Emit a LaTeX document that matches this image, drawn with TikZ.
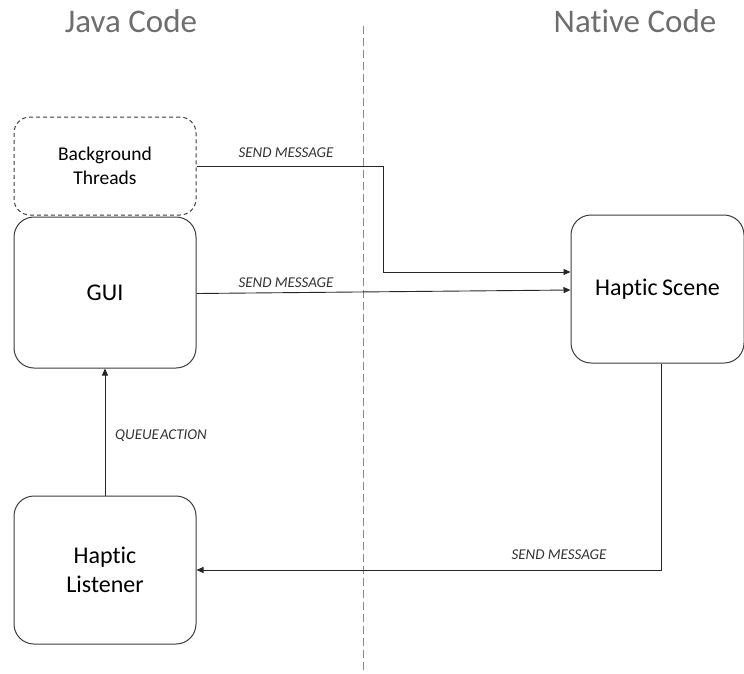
\documentclass[tikz,border=0pt]{standalone}
\usepackage{fontspec}
\setmainfont{Carlito}[Ligatures=NoCommon]
\usetikzlibrary{arrows.meta}
\definecolor{boxline}{HTML}{3C3C3C}
\definecolor{titlegray}{HTML}{6E6E6E}
\definecolor{midgray}{HTML}{8A8A8A}
\tikzset{
  block/.style={draw=boxline, line width=1pt, rounded corners=20pt, align=center,
    inner sep=0pt, text=black},
  dblock/.style={block, dashed, dash pattern=on 4pt off 3pt, rounded corners=16pt},
  arr/.style={draw=black!85, line width=0.9pt, -{Triangle[length=7pt,width=6pt]}},
  lbl/.style={font=\fontsize{15}{17}\selectfont\itshape, text=black!80, inner sep=0pt, anchor=base},
  ttl/.style={font=\fontsize{33}{36}\selectfont, text=titlegray, inner sep=0pt, anchor=base},
  divider/.style={draw=midgray, line width=1pt, dash pattern=on 8pt off 4pt}
}
\begin{document}
\begin{tikzpicture}[x=1pt,y=-1pt]
\useasboundingbox (0,0) rectangle (744,673);
% titles
\node[ttl] (jt) at (131,32) {Java Code};
\node[ttl] (nt) at (635,32) {Native Code};
% divider
\coordinate (dtop) at (363,26);
\coordinate (dbot) at (363,673);
\draw[divider] (dtop) -- (dbot);
% boxes
\node[dblock, minimum width=182pt, minimum height=98pt,
  font=\fontsize{19.5}{24}\selectfont] (bg) at (105,166) {Background\\Threads};
\node[block, minimum width=182pt, minimum height=151pt,
  font=\fontsize{24}{28}\selectfont] (gui) at (105,292.5) {GUI};
\node[block, minimum width=182pt, minimum height=148pt,
  font=\fontsize{24}{29}\selectfont] (hl) at (105,570) {Haptic\\Listener};
\node[block, minimum width=173pt, minimum height=148pt,
  font=\fontsize{24}{28}\selectfont] (hs) at (657.5,289) {Haptic\kern-1pt\ Scene};
% connectors
\coordinate (bend) at (383,272);
\draw[arr] (bg.east) -| (bend) -- (bend -| hs.west);
\draw[arr] ([yshift=-1pt]gui.east) -- ([yshift=-1pt]hs.west);
\draw[arr] ([xshift=4pt]hs.south) |- (hl.east);
\draw[arr] (hl.north) -- (gui.south);
% labels
\node[lbl] (l1) at (286,157) {SEND MESSAGE};
\node[lbl] (l2) at (286,287) {SEND MESSAGE};
\node[lbl] (l3) at (559,559) {SEND MESSAGE};
\node[lbl, anchor=base west] (l4) at (115,439) {QUEUE\kern1pt ACTION};
\end{tikzpicture}
\end{document}
